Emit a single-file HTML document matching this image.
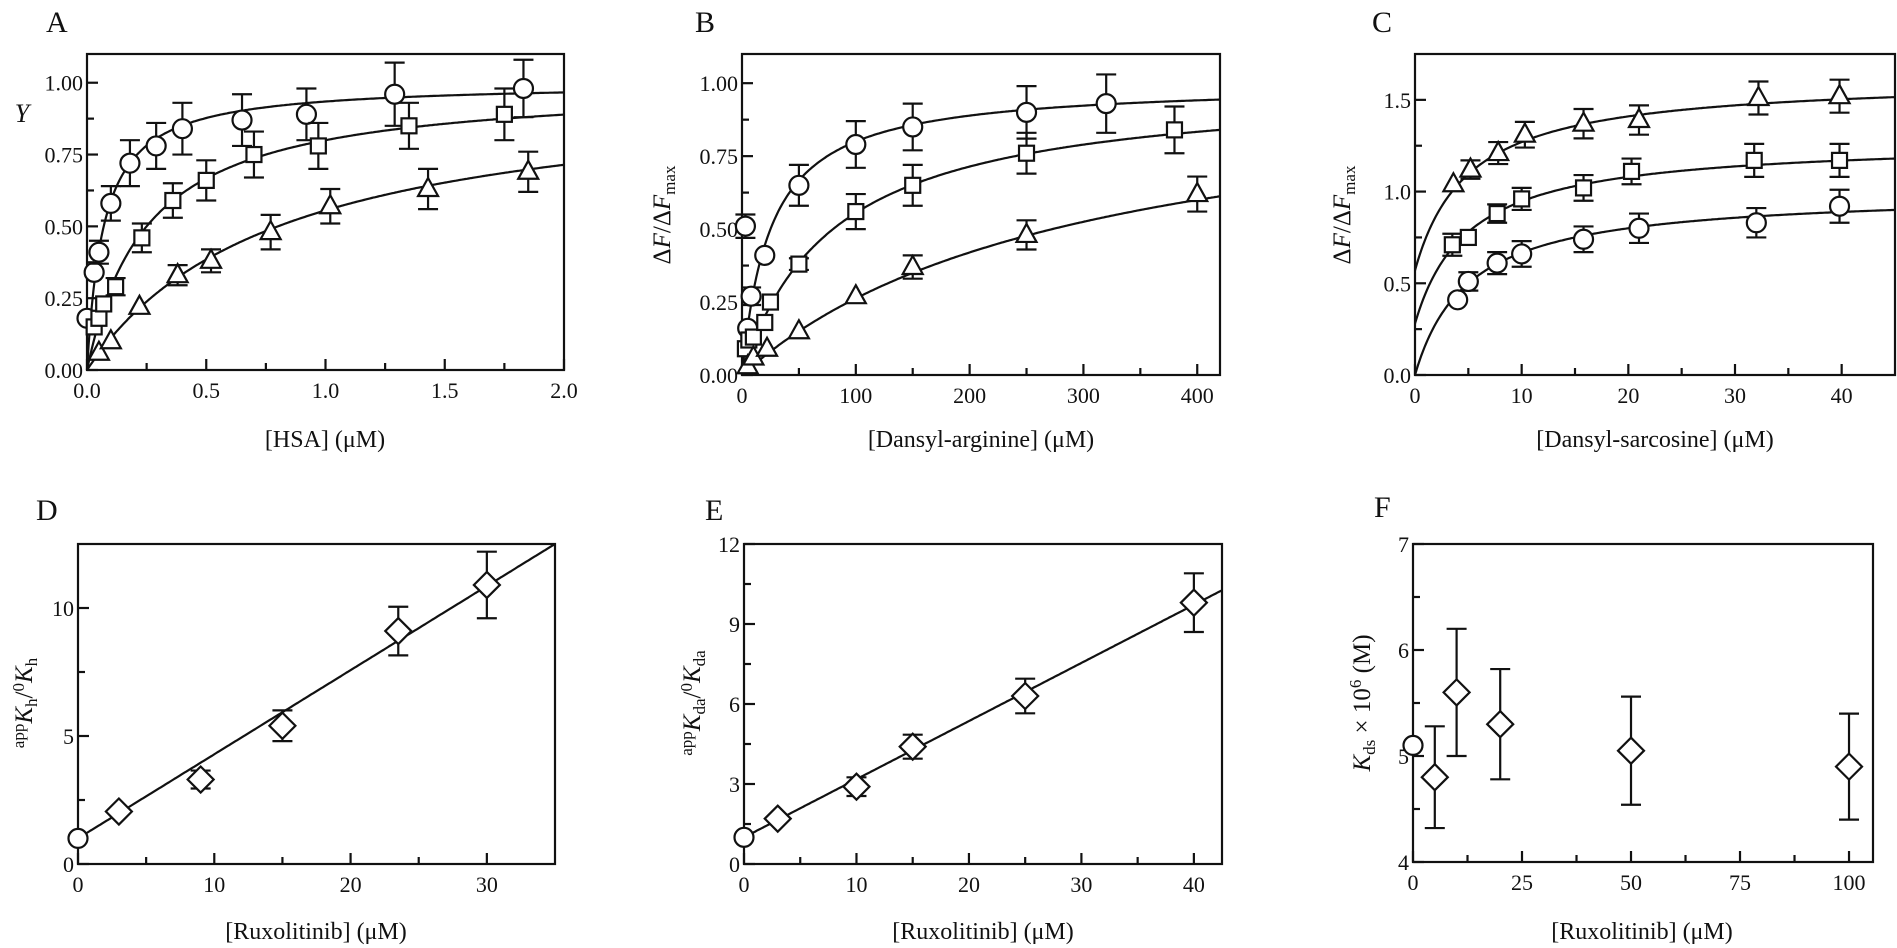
<!DOCTYPE html>
<html><head><meta charset="utf-8"><style>
html,body{margin:0;padding:0;background:#fff;}
svg{display:block;font-family:"Liberation Serif",serif;}
text{fill:#111;}
</style></head><body>
<svg id="s" width="1897" height="948" viewBox="0 0 1897 948" xmlns="http://www.w3.org/2000/svg">
<g font-size="30">
<text x="46" y="32">A</text><text x="695" y="32">B</text><text x="1372" y="32">C</text>
<text x="36" y="520">D</text><text x="705" y="520">E</text><text x="1374" y="517">F</text>
</g>
<g font-size="24" text-anchor="middle">
<text x="22" y="122" font-style="italic" font-size="26">Y</text>
<text x="325" y="447">[HSA] (μM)</text>
<text x="981" y="447">[Dansyl-arginine] (μM)</text>
<text x="1655" y="447">[Dansyl-sarcosine] (μM)</text>
<text x="316" y="939">[Ruxolitinib] (μM)</text>
<text x="983" y="939">[Ruxolitinib] (μM)</text>
<text x="1642" y="939">[Ruxolitinib] (μM)</text>
<g font-size="25">
<text transform="translate(670,215) rotate(-90)">Δ<tspan font-style="italic">F</tspan>/Δ<tspan font-style="italic">F</tspan><tspan font-size="17" dy="5">max</tspan></text>
<text transform="translate(1350,215) rotate(-90)">Δ<tspan font-style="italic">F</tspan>/Δ<tspan font-style="italic">F</tspan><tspan font-size="17" dy="5">max</tspan></text>
<text transform="translate(32,703) rotate(-90)"><tspan font-size="17" dy="-8">app</tspan><tspan font-style="italic" dy="8">K</tspan><tspan font-size="17" dy="5">h</tspan><tspan dy="-5">/</tspan><tspan font-size="17" dy="-8">0</tspan><tspan font-style="italic" dy="8">K</tspan><tspan font-size="17" dy="5">h</tspan></text>
<text transform="translate(700,703) rotate(-90)"><tspan font-size="17" dy="-8">app</tspan><tspan font-style="italic" dy="8">K</tspan><tspan font-size="17" dy="5">da</tspan><tspan dy="-5">/</tspan><tspan font-size="17" dy="-8">0</tspan><tspan font-style="italic" dy="8">K</tspan><tspan font-size="17" dy="5">da</tspan></text>
<text transform="translate(1370,703) rotate(-90)"><tspan font-style="italic">K</tspan><tspan font-size="17" dy="5">ds</tspan><tspan dy="-5"> × 10</tspan><tspan font-size="17" dy="-9">6</tspan><tspan dy="9"> (M)</tspan></text>
</g>
</g>
<g id="ticks" font-size="22"></g>
<g id="plots" fill="none" stroke="#111" stroke-width="2.2"></g>
</svg>
<script>
const NS="http://www.w3.org/2000/svg";
const P=document.getElementById('plots'),T=document.getElementById('ticks');
function el(par,tag,a,txt){const e=document.createElementNS(NS,tag);for(const k in a)e.setAttribute(k,a[k]);if(txt!==undefined)e.textContent=txt;par.appendChild(e);return e;}
function panel(o){
 const X=v=>o.l+(v-o.x0)/(o.x1-o.x0)*(o.r-o.l), Y=v=>o.b-(v-o.y0)/(o.y1-o.y0)*(o.b-o.t);
 o.X=X;o.Y=Y;
 el(P,'rect',{x:o.l,y:o.t,width:o.r-o.l,height:o.b-o.t});
 o.xt.forEach(v=>{el(P,'line',{x1:X(v),x2:X(v),y1:o.b,y2:o.b-11});el(T,'text',{x:X(v),y:o.b+28,'text-anchor':'middle'},o.xf(v));});
 (o.xm||[]).forEach(v=>el(P,'line',{x1:X(v),x2:X(v),y1:o.b,y2:o.b-7}));
 o.yt.forEach(v=>{el(P,'line',{x1:o.l,x2:o.l+11,y1:Y(v),y2:Y(v)});el(T,'text',{x:o.l-4,y:Y(v)+8,'text-anchor':'end'},o.yf(v));});
 (o.ym||[]).forEach(v=>el(P,'line',{x1:o.l,x2:o.l+7,y1:Y(v),y2:Y(v)}));
 return o;
}
function curve(o,f,xa,xb){let d='';for(let i=0;i<=300;i++){const x=xa+(xb-xa)*i/300;let y=f(x);if(y>o.y1)y=o.y1;d+=(i?'L':'M')+o.X(x).toFixed(1)+','+o.Y(y).toFixed(1);}el(P,'path',{d});}
function mark(o,type,pts){pts.forEach(p=>{const x=o.X(p[0]),y=o.Y(p[1]);
 if(p[2]){const a=o.Y(p[1]+p[2]),b=o.Y(p[1]-p[2]);el(P,'path',{d:`M${x},${a}V${b}M${x-10},${a}H${x+10}M${x-10},${b}H${x+10}`});}
 if(type=='c')el(P,'circle',{cx:x,cy:y,r:9.5,fill:'#fff'});
 if(type=='s')el(P,'rect',{x:x-7.5,y:y-7.5,width:15,height:15,fill:'#fff'});
 if(type=='t')el(P,'path',{d:`M${x},${y-11}L${x+10},${y+7}L${x-10},${y+7}Z`,fill:'#fff'});
 if(type=='d')el(P,'path',{d:`M${x},${y-13}L${x+13},${y}L${x},${y+13}L${x-13},${y}Z`,fill:'#fff'});
});}
const f2=v=>v.toFixed(2),f1=v=>v.toFixed(1),f0=v=>String(v);
let A=panel({l:87,r:564,t:54,b:370,x0:0,x1:2,y0:0,y1:1.1,xt:[0,0.5,1,1.5,2],xm:[0.25,0.75,1.25,1.75],xf:f1,yt:[0,0.25,0.5,0.75,1],ym:[0.125,0.375,0.625,0.875],yf:f2});
curve(A,x=>x/(0.07+x),0,2);curve(A,x=>x/(0.25+x),0,2);curve(A,x=>x/(0.8+x),0,2);
mark(A,'c',[[0,0.18],[0.03,0.34],[0.05,0.41,0.04],[0.1,0.58,0.06],[0.18,0.72,0.08],[0.29,0.78,0.08],[0.4,0.84,0.09],[0.65,0.87,0.09],[0.92,0.89,0.09],[1.29,0.96,0.11],[1.83,0.98,0.1]]);
mark(A,'s',[[0.03,0.15],[0.05,0.18],[0.07,0.23],[0.12,0.29,0.03],[0.23,0.46,0.05],[0.36,0.59,0.06],[0.5,0.66,0.07],[0.7,0.75,0.08],[0.97,0.78,0.08],[1.35,0.85,0.08],[1.75,0.89,0.09]]);
mark(A,'t',[[0.05,0.06],[0.1,0.1],[0.22,0.22],[0.38,0.33,0.035],[0.52,0.38,0.04],[0.77,0.48,0.06],[1.02,0.57,0.06],[1.43,0.63,0.07],[1.85,0.69,0.07]]);
let B=panel({l:742,r:1220,t:54,b:375,x0:0,x1:420,y0:0,y1:1.1,xt:[0,100,200,300,400],xm:[50,150,250,350],xf:f0,yt:[0,0.25,0.5,0.75,1],ym:[0.125,0.375,0.625,0.875],yf:f2});
curve(B,x=>x/(25+x),0,420);curve(B,x=>x/(80+x),0,420);curve(B,x=>1.05*x/(300+x),0,420);
mark(B,'c',[[3,0.51,0.04],[5,0.16],[8,0.27,0.03],[20,0.41],[50,0.65,0.07],[100,0.79,0.08],[150,0.85,0.08],[250,0.9,0.09],[320,0.93,0.1]]);
mark(B,'s',[[3,0.09],[6,0.12],[10,0.13],[20,0.18],[25,0.25],[50,0.38,0.02],[100,0.56,0.06],[150,0.65,0.07],[250,0.76,0.07],[380,0.84,0.08]]);
mark(B,'t',[[5,0.03],[10,0.06],[22,0.09],[50,0.15],[100,0.27],[150,0.37,0.04],[250,0.48,0.05],[400,0.62,0.06]]);
let C=panel({l:1415,r:1895,t:54,b:375,x0:0,x1:45,y0:0,y1:1.75,xt:[0,10,20,30,40],xm:[5,15,25,35],xf:f0,yt:[0,0.5,1,1.5],ym:[0.25,0.75,1.25],yf:f1});
curve(C,x=>x/(5+x),0,45);curve(C,x=>0.28+x/(5+x),0,45);curve(C,x=>0.57+1.05*x/(5+x),0,45);
mark(C,'c',[[4,0.41],[5,0.51,0.05],[7.7,0.61,0.06],[10,0.66,0.07],[15.8,0.74,0.07],[21,0.8,0.08],[32,0.83,0.08],[39.8,0.92,0.09]]);
mark(C,'s',[[3.5,0.71,0.06],[5,0.75],[7.7,0.88,0.05],[10,0.96,0.06],[15.8,1.02,0.07],[20.3,1.11,0.07],[31.8,1.17,0.09],[39.8,1.17,0.09]]);
mark(C,'t',[[3.6,1.04],[5.2,1.12,0.05],[7.8,1.21,0.06],[10.3,1.31,0.07],[15.8,1.37,0.08],[21,1.39,0.08],[32.2,1.51,0.09],[39.8,1.52,0.09]]);
let D=panel({l:78,r:555,t:544,b:864,x0:0,x1:35,y0:0,y1:12.5,xt:[0,10,20,30],xm:[5,15,25],xf:f0,yt:[0,5,10],ym:[2.5,7.5],yf:f0});
curve(D,x=>1+x*0.3286,0,35);
mark(D,'c',[[0,1]]);mark(D,'d',[[3,2.05],[9,3.3,0.35],[15,5.4,0.6],[23.5,9.1,0.95],[30,10.9,1.3]]);
let E=panel({l:744,r:1222,t:544,b:864,x0:0,x1:42.5,y0:0,y1:12,xt:[0,10,20,30,40],xm:[5,15,25,35],xf:f0,yt:[0,3,6,9,12],ym:[1.5,4.5,7.5,10.5],yf:f0});
curve(E,x=>1+x*0.218,0,42.5);
mark(E,'c',[[0,1]]);mark(E,'d',[[3,1.7],[10,2.9,0.35],[15,4.4,0.45],[25,6.3,0.65],[40,9.8,1.1]]);
let F=panel({l:1413,r:1873,t:544,b:862,x0:0,x1:105.5,y0:4,y1:7,xt:[0,25,50,75,100],xm:[12.5,37.5,62.5,87.5],xf:f0,yt:[4,5,6,7],ym:[4.5,5.5,6.5],yf:f0});
mark(F,'c',[[0,5.1]]);mark(F,'d',[[5,4.8,0.48],[10,5.6,0.6],[20,5.3,0.52],[50,5.05,0.51],[100,4.9,0.5]]);
</script>
</body></html>
